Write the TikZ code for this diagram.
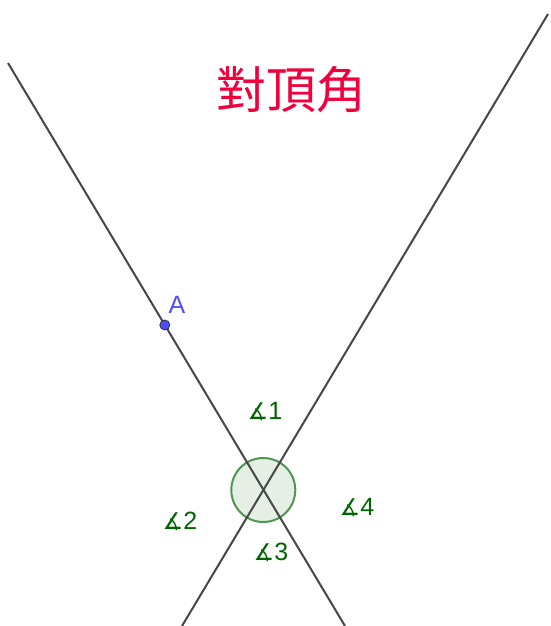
\documentclass[tikz,border=0pt]{standalone}
\usepackage{fontspec}
\setmainfont{Liberation Sans}
\newfontfamily\cjk{Noto Sans CJK TC}
\newfontfamily\djv{DejaVu Sans}
\definecolor{ggline}{RGB}{70,70,70}
\definecolor{ggangle}{RGB}{0,100,0}
\definecolor{ggedge}{RGB}{80,150,80}
\definecolor{ggblue}{RGB}{77,77,255}
\definecolor{ggred}{RGB}{240,0,60}
\tikzset{
  gline/.style={draw=ggline,line width=2pt},
  anglemark/.style={fill=ggangle,fill opacity=0.1,draw=ggedge,draw opacity=1,line width=2pt},
  anglelabel/.style={text=ggangle,font=\fontsize{25}{25}\selectfont,inner sep=0pt},
  ptA/.style={circle,fill=ggblue,draw=black!80,line width=0.8pt,minimum size=10pt,inner sep=0pt},
}
\newcommand{\angsym}{{\djv\fontsize{23}{23}\selectfont\char"2221}}
\begin{document}
\begin{tikzpicture}[x=1pt,y=-1pt]
\useasboundingbox (0,0) rectangle (550,626);
\fill[white] (0,0) rectangle (550,626);
\coordinate (L1a) at (8,63);
\coordinate (L1b) at (345,626);
\coordinate (L2a) at (548,14);
\coordinate (L2b) at (182,626);
\coordinate (O) at (263.3,490);
\path[anglemark] (O) circle (32pt);
\draw[gline] (L1a) -- (L1b);
\draw[gline] (L2a) -- (L2b);
\node[ptA] (A) at (164.8,325) {};
\node[text=ggblue,font=\fontsize{25}{25}\selectfont,inner sep=0pt] (Alab) at (177,305) {A};
\node[anglelabel] (a1) at (265,412) {\angsym1};
\node[anglelabel] (a2) at (180,521) {\angsym2};
\node[anglelabel] (a3) at (271,552) {\angsym3};
\node[anglelabel] (a4) at (357,508) {\angsym4};
\node[text=ggred,font=\cjk\fontsize{50}{50}\selectfont,inner sep=0pt] (title) at (291,90) {對頂角};
\end{tikzpicture}
\end{document}
